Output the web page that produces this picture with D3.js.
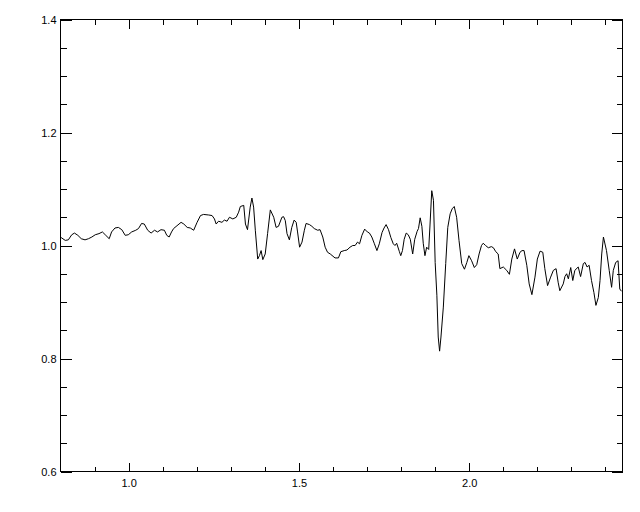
<!DOCTYPE html>
<html lang="en">
<head>
<meta charset="utf-8">
<title>Spectrum</title>
<script src="https://d3js.org/d3.v7.min.js"></script>
<style>
  body { margin: 0; background: #fff; }
  .tick text { font-family: "Liberation Sans", Arial, sans-serif; font-size: 11px; fill: #000; }
  .axis line { stroke: #000; shape-rendering: crispEdges; }
  .axis path { display: none; }
</style>
</head>
<body>
<div id="main"></div>
<script>
// wavelength (x) and normalised flux (y)
var xs = [0.800,0.802,0.814,0.823,0.833,0.841,0.851,0.861,0.872,0.882,0.892,0.902,0.913,0.923,0.933,0.943,0.950,0.960,0.970,0.980,
  0.990,0.999,1.009,1.021,1.029,1.038,1.046,1.056,1.066,1.076,1.085,1.095,1.105,1.112,1.119,1.126,1.132,1.142,1.154,1.162,
  1.172,1.181,1.191,1.201,1.211,1.220,1.235,1.245,1.252,1.257,1.264,1.274,1.281,1.289,1.296,1.306,1.316,1.323,1.328,1.338,
  1.343,1.349,1.357,1.362,1.367,1.372,1.379,1.384,1.389,1.394,1.401,1.408,1.416,1.426,1.433,1.440,1.450,1.455,1.460,1.465,
  1.472,1.479,1.486,1.492,1.496,1.502,1.509,1.516,1.521,1.531,1.538,1.545,1.555,1.562,1.570,1.577,1.584,1.592,1.606,1.616,
  1.623,1.633,1.641,1.650,1.658,1.665,1.672,1.678,1.685,1.693,1.701,1.707,1.714,1.721,1.729,1.736,1.744,1.750,1.756,1.763,
  1.770,1.777,1.782,1.787,1.795,1.799,1.804,1.809,1.815,1.821,1.827,1.834,1.840,1.847,1.851,1.856,1.861,1.865,1.870,1.875,
  1.881,1.885,1.890,1.895,1.900,1.905,1.909,1.913,1.917,1.924,1.931,1.937,1.944,1.950,1.956,1.963,1.970,1.978,1.986,1.993,
  1.999,2.007,2.015,2.022,2.029,2.036,2.041,2.048,2.056,2.065,2.071,2.078,2.085,2.090,2.100,2.110,2.118,2.125,2.133,2.141,
  2.149,2.155,2.161,2.169,2.176,2.184,2.193,2.200,2.208,2.216,2.222,2.230,2.239,2.247,2.255,2.261,2.266,2.276,2.281,2.286,
  2.291,2.298,2.304,2.310,2.320,2.327,2.335,2.340,2.346,2.352,2.359,2.366,2.372,2.379,2.384,2.389,2.394,2.403,2.411,2.418,
  2.423,2.430,2.437,2.442,2.447];
var ys = [1.014,1.014,1.009,1.010,1.019,1.022,1.018,1.012,1.010,1.012,1.015,1.019,1.021,1.024,1.018,1.012,1.024,1.031,1.032,1.028,
  1.018,1.019,1.024,1.027,1.030,1.039,1.038,1.027,1.022,1.027,1.024,1.028,1.027,1.018,1.015,1.024,1.030,1.035,1.041,1.038,
  1.032,1.031,1.027,1.041,1.053,1.055,1.054,1.053,1.047,1.038,1.043,1.041,1.045,1.043,1.050,1.047,1.050,1.059,1.069,1.071,
  1.038,1.028,1.068,1.084,1.068,1.027,0.976,0.982,0.991,0.975,0.985,1.021,1.063,1.050,1.032,1.034,1.050,1.051,1.044,1.021,
  1.010,1.032,1.045,1.041,1.024,0.997,1.006,1.027,1.039,1.037,1.034,1.030,1.027,1.028,1.015,0.997,0.988,0.985,0.978,0.978,
  0.989,0.991,0.992,0.997,1.000,1.000,1.006,1.003,1.018,1.029,1.024,1.022,1.015,1.004,0.991,1.003,1.023,1.031,1.037,1.028,
  1.014,1.003,1.000,1.004,0.989,0.982,0.991,1.011,1.022,1.019,1.011,0.985,1.011,1.025,1.030,1.049,1.034,1.004,0.982,0.997,
  0.993,1.038,1.097,1.080,0.970,0.912,0.838,0.813,0.838,0.891,0.968,1.032,1.056,1.065,1.069,1.050,1.009,0.968,0.958,0.970,
  0.982,0.973,0.961,0.966,0.985,1.000,1.004,1.000,0.996,0.998,0.996,0.989,0.985,0.959,0.962,0.956,0.949,0.976,0.994,0.976,
  0.988,0.991,0.991,0.965,0.932,0.913,0.944,0.976,0.990,0.988,0.959,0.929,0.944,0.956,0.959,0.935,0.920,0.932,0.945,0.950,
  0.941,0.961,0.938,0.956,0.962,0.945,0.968,0.970,0.962,0.965,0.938,0.917,0.894,0.908,0.938,0.985,1.015,0.991,0.956,0.926,
  0.956,0.970,0.973,0.923,0.919];

var xDomain = [0.8, 2.45];
var yDomain = [0.6, 1.4];
var xMajor = [1.0, 1.5, 2.0];
var xMinor = [0.9, 1.1, 1.2, 1.3, 1.4, 1.6, 1.7, 1.8, 1.9, 2.1, 2.2, 2.3, 2.4];
var yMajor = [0.6, 0.8, 1.0, 1.2, 1.4];
var yMinor = [0.65, 0.7, 0.75, 0.85, 0.9, 0.95, 1.05, 1.1, 1.15, 1.25, 1.3, 1.35];

var width = 640, height = 512;
var pLeft = 60.5, pTop = 19.5, pRight = 622.5, pBottom = 471.5;

var svg = d3.select("#main").append("svg")
  .attr("width", width).attr("height", height);

var x = d3.scaleLinear().domain(xDomain).range([pLeft, pRight]);
var y = d3.scaleLinear().domain(yDomain).range([pBottom, pTop]);

var fmt = d3.format(".1f");

// bottom axis
svg.append("g").attr("class", "axis").attr("transform", "translate(0," + pBottom + ")")
  .call(d3.axisBottom(x).tickValues(xMajor).tickSizeInner(-9).tickSizeOuter(0).tickPadding(8).tickFormat(fmt));
svg.append("g").attr("class", "axis").attr("transform", "translate(0," + pBottom + ")")
  .call(d3.axisBottom(x).tickValues(xMinor).tickSizeInner(-5).tickSizeOuter(0).tickFormat(""));
// top axis
svg.append("g").attr("class", "axis").attr("transform", "translate(0," + pTop + ")")
  .call(d3.axisTop(x).tickValues(xMajor).tickSizeInner(-9).tickSizeOuter(0).tickFormat(""));
svg.append("g").attr("class", "axis").attr("transform", "translate(0," + pTop + ")")
  .call(d3.axisTop(x).tickValues(xMinor).tickSizeInner(-5).tickSizeOuter(0).tickFormat(""));
// left axis
svg.append("g").attr("class", "axis").attr("transform", "translate(" + pLeft + ",0)")
  .call(d3.axisLeft(y).tickValues(yMajor).tickSizeInner(-11).tickSizeOuter(0).tickPadding(4).tickFormat(fmt));
svg.append("g").attr("class", "axis").attr("transform", "translate(" + pLeft + ",0)")
  .call(d3.axisLeft(y).tickValues(yMinor).tickSizeInner(-6).tickSizeOuter(0).tickFormat(""));
// right axis
svg.append("g").attr("class", "axis").attr("transform", "translate(" + pRight + ",0)")
  .call(d3.axisRight(y).tickValues(yMajor).tickSizeInner(-11).tickSizeOuter(0).tickFormat(""));
svg.append("g").attr("class", "axis").attr("transform", "translate(" + pRight + ",0)")
  .call(d3.axisRight(y).tickValues(yMinor).tickSizeInner(-6).tickSizeOuter(0).tickFormat(""));

// frame
svg.append("rect")
  .attr("x", pLeft).attr("y", pTop)
  .attr("width", pRight - pLeft).attr("height", pBottom - pTop)
  .attr("fill", "none").attr("stroke", "#000").attr("stroke-width", 1)
  .style("shape-rendering", "crispEdges");

svg.append("clipPath").attr("id", "clip")
  .append("rect").attr("x", pLeft).attr("y", pTop)
  .attr("width", pRight - pLeft).attr("height", pBottom - pTop);

var line = d3.line()
  .x(function(d, i) { return x(xs[i]); })
  .y(function(d, i) { return y(ys[i]); });

svg.append("path")
  .datum(xs)
  .attr("clip-path", "url(#clip)")
  .attr("fill", "none")
  .attr("stroke", "#000")
  .attr("stroke-width", 1)
  .attr("d", line);
</script>
</body>
</html>
